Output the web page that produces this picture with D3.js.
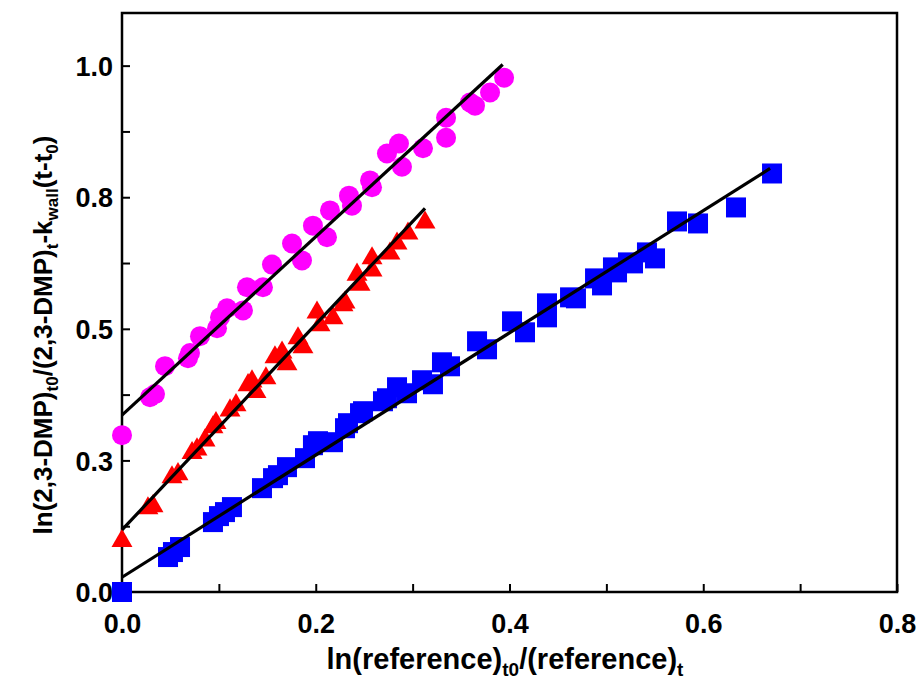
<!DOCTYPE html>
<html>
<head>
<meta charset="utf-8">
<script src="https://cdn.jsdelivr.net/npm/d3@7"></script>
<style>
  html, body { margin: 0; padding: 0; background: #fff; }
  svg { display: block; }
  text { font-family: "Liberation Sans", Arial, sans-serif; font-weight: bold; }
</style>
</head>
<body>
<svg id="chart" width="923" height="681"></svg>
<script>
// ---- Data ----
const squareX = [0, 0.0475, 0.0526, 0.0599, 0.0939, 0.1001, 0.1063, 0.1135, 0.1445, 0.1559, 0.1610, 0.1703, 0.1889, 0.1971, 0.2023, 0.2178, 0.2302, 0.2333, 0.2457, 0.2488, 0.2694, 0.2735, 0.2839, 0.2942, 0.3097, 0.3210, 0.3303, 0.3386, 0.3665, 0.3768, 0.4026, 0.4160, 0.4387, 0.4387, 0.4625, 0.4686, 0.4883, 0.4955, 0.5068, 0.5110, 0.5223, 0.5275, 0.5419, 0.5502, 0.5729, 0.5946, 0.6338, 0.6710];
const squareY = [0, 0.0664, 0.0759, 0.0854, 0.1328, 0.1442, 0.1518, 0.1613, 0.1973, 0.2163, 0.2220, 0.2372, 0.2543, 0.2789, 0.2865, 0.2846, 0.3112, 0.3207, 0.3397, 0.3435, 0.3624, 0.3681, 0.3890, 0.3776, 0.4023, 0.3947, 0.4364, 0.4288, 0.4763, 0.4611, 0.5142, 0.4934, 0.5484, 0.5218, 0.5598, 0.5579, 0.5958, 0.5825, 0.6167, 0.6072, 0.6262, 0.6243, 0.6452, 0.6338, 0.7040, 0.7002, 0.7306, 0.7951];

const triangleX = [0, 0.0268, 0.0320, 0.0516, 0.0578, 0.0723, 0.0774, 0.0857, 0.0939, 0.0970, 0.1115, 0.1177, 0.1301, 0.1342, 0.1383, 0.1486, 0.1579, 0.1652, 0.1703, 0.1817, 0.1868, 0.2013, 0.2044, 0.2178, 0.2281, 0.2302, 0.2426, 0.2457, 0.2581, 0.2581, 0.2766, 0.2839, 0.2952, 0.3128];
const triangleY = [0.097, 0.159, 0.163, 0.218, 0.224, 0.264, 0.271, 0.288, 0.313, 0.321, 0.345, 0.355, 0.393, 0.400, 0.380, 0.406, 0.446, 0.455, 0.433, 0.482, 0.465, 0.531, 0.507, 0.520, 0.545, 0.550, 0.603, 0.584, 0.611, 0.634, 0.643, 0.662, 0.681, 0.702];

const circleX = [0, 0.0289, 0.0341, 0.0444, 0.0681, 0.0702, 0.0805, 0.0981, 0.1012, 0.1084, 0.1249, 0.1290, 0.1455, 0.1548, 0.1755, 0.1858, 0.1971, 0.2116, 0.2147, 0.2343, 0.2374, 0.2560, 0.2581, 0.2735, 0.2859, 0.2890, 0.3107, 0.3345, 0.3345, 0.3592, 0.3644, 0.3799, 0.3944];
const circleY = [0.298, 0.370, 0.376, 0.429, 0.444, 0.454, 0.486, 0.501, 0.522, 0.539, 0.535, 0.579, 0.579, 0.622, 0.662, 0.630, 0.696, 0.674, 0.725, 0.753, 0.734, 0.782, 0.769, 0.833, 0.852, 0.808, 0.843, 0.901, 0.863, 0.930, 0.924, 0.949, 0.977];

// Linear fits: [intercept, slope, xEnd] for squares, triangles, circles
const fitIntercept = [0.028, 0.118, 0.336];
const fitSlope = [1.161, 1.953, 1.695];
const fitXEnd = [0.669, 0.3128, 0.393];

const xTickValues = [0, 0.1, 0.2, 0.3, 0.4, 0.5, 0.6, 0.7, 0.8];
const xTickLabels = ["0.0", "", "0.2", "", "0.4", "", "0.6", "", "0.8"];
const yTickValues = [0, 0.125, 0.25, 0.375, 0.5, 0.625, 0.75, 0.875, 1.0];
const yTickLabels = ["0.0", "", "0.3", "", "0.5", "", "0.8", "", "1.0"];

const seriesColors = ["#0000FF", "#FF0000", "#FF00FF"];

// ---- Layout ----
const svg = d3.select("#chart");
const margin = { left: 122, right: 26, top: 13, bottom: 89 };
const W = 923, H = 681;
const x = d3.scaleLinear().domain([0, 0.8]).range([margin.left, W - margin.right]);
const y = d3.scaleLinear().domain([0, 1.1]).range([H - margin.bottom, margin.top]);

// Axes
const xAxis = d3.axisBottom(x).tickValues(xTickValues)
  .tickFormat((d, i) => xTickLabels[i]).tickSize(-8).tickPadding(22);
const yAxis = d3.axisLeft(y).tickValues(yTickValues)
  .tickFormat((d, i) => yTickLabels[i]).tickSize(-8).tickPadding(9);

const gx = svg.append("g").attr("transform", `translate(0,${y(0)})`).call(xAxis);
const gy = svg.append("g").attr("transform", `translate(${x(0)},0)`).call(yAxis);
[gx, gy].forEach(g => {
  g.select(".domain").remove();
  g.selectAll(".tick line").attr("stroke", "#000").attr("stroke-width", 2);
  g.selectAll(".tick text").attr("fill", "#000").style("font-size", "27px")
    .style("font-family", "'Liberation Sans', Arial, sans-serif").style("font-weight", "bold");
});
gy.selectAll(".tick text").attr("dy", "0.36em");

// Frame
svg.append("rect")
  .attr("x", x(0)).attr("y", y(1.1))
  .attr("width", x(0.8) - x(0)).attr("height", y(0) - y(1.1))
  .attr("fill", "none").attr("stroke", "#000").attr("stroke-width", 2.5);

// Markers
const plot = svg.append("g");
const sq = squareX.map((d, i) => [d, squareY[i]]);
const tr = triangleX.map((d, i) => [d, triangleY[i]]);
const ci = circleX.map((d, i) => [d, circleY[i]]);

plot.selectAll("rect.sq").data(sq).join("rect").attr("class", "sq")
  .attr("x", d => x(d[0]) - 10).attr("y", d => y(d[1]) - 10)
  .attr("width", 20).attr("height", 20).attr("fill", seriesColors[0]);

const triSym = d3.symbol().type(d3.symbolTriangle).size(190);
plot.selectAll("path.tr").data(tr).join("path").attr("class", "tr")
  .attr("d", triSym).attr("transform", d => `translate(${x(d[0])},${y(d[1])})`)
  .attr("fill", seriesColors[1]);

plot.selectAll("circle.ci").data(ci).join("circle").attr("class", "ci")
  .attr("cx", d => x(d[0])).attr("cy", d => y(d[1])).attr("r", 10)
  .attr("fill", seriesColors[2]);

// Fit lines
const line = d3.line().x(d => x(d[0])).y(d => y(d[1]));
fitIntercept.forEach((b, i) => {
  const pts = [[0, b], [fitXEnd[i], b + fitSlope[i] * fitXEnd[i]]];
  svg.append("path").attr("d", line(pts)).attr("stroke", "#000")
    .attr("stroke-width", 3.2).attr("fill", "none");
});

// Axis titles
const xt = svg.append("text").attr("x", 505).attr("y", 669)
  .attr("text-anchor", "middle").style("font-size", "29px");
xt.append("tspan").text("ln(reference)");
xt.append("tspan").text("t0").style("font-size", "19px").attr("dy", 7);
xt.append("tspan").text("/(reference)").attr("dy", -7);
xt.append("tspan").text("t").style("font-size", "19px").attr("dy", 7);

const yt = svg.append("text")
  .attr("transform", `translate(52,${335}) rotate(-90)`)
  .attr("text-anchor", "middle").style("font-size", "26px");
yt.append("tspan").text("ln(2,3-DMP)");
yt.append("tspan").text("t0").style("font-size", "17px").attr("dy", 6);
yt.append("tspan").text("/(2,3-DMP)").attr("dy", -6);
yt.append("tspan").text("t").style("font-size", "17px").attr("dy", 6);
yt.append("tspan").text("-k").attr("dy", -6);
yt.append("tspan").text("wall").style("font-size", "17px").attr("dy", 6);
yt.append("tspan").text("(t-t").attr("dy", -6);
yt.append("tspan").text("0").style("font-size", "17px").attr("dy", 6);
yt.append("tspan").text(")").attr("dy", -6);
</script>
</body>
</html>
